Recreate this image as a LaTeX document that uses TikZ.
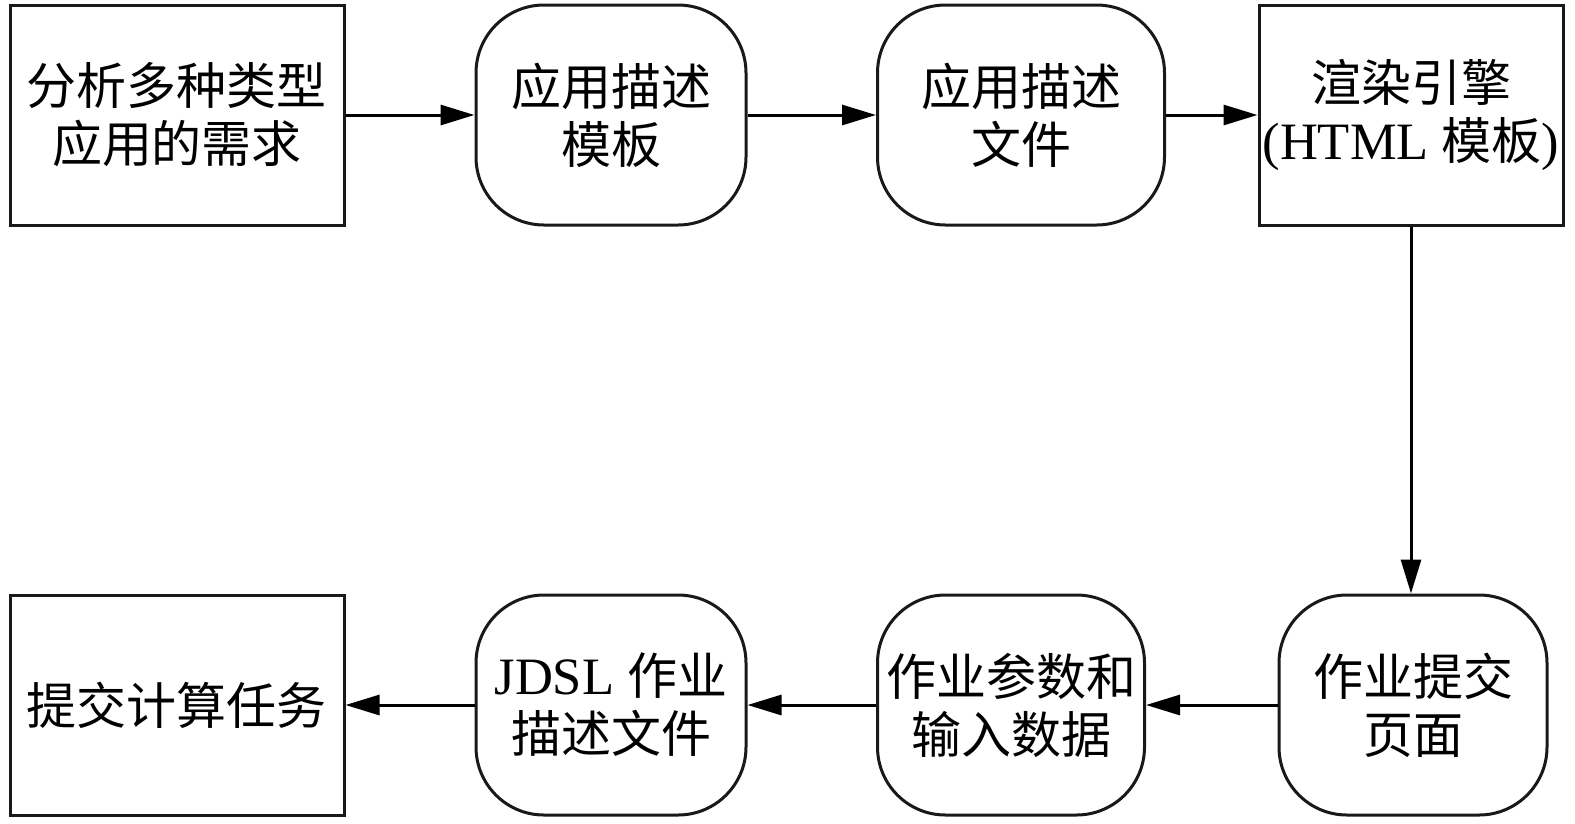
\documentclass[tikz,border=0pt]{standalone}
\usepackage{fontspec}
\setmainfont{Liberation Serif}[Scale=1.05]
\newfontfamily\cjk{Noto Sans CJK SC}
\usetikzlibrary{arrows.meta}
\begin{document}
\begin{tikzpicture}[x=1pt,y=-1pt,
  box/.style={draw=black!90, line width=3pt, minimum height=220pt, align=center, inner sep=0pt,
    font=\cjk\fontsize{50}{58}\selectfont},
  rbox/.style={box, rounded corners=68pt},
  arr/.style={line width=3pt, -{Triangle[length=34pt,width=20pt]}}]
\useasboundingbox (0,0) rectangle (1575,823);
\node[box, minimum width=334pt] (b1) at (177,115) {分析多种类型\\应用的需求};
\node[rbox, minimum width=270pt] (b2) at (611,115) {应用描述\\模板};
\node[rbox, minimum width=287pt] (b3) at (1021,115) {应用描述\\文件};
\node[box, minimum width=304pt] (b4) at (1411,115) {渲染引擎\\{\rmfamily (HTML }模板{\rmfamily )}};
\node[rbox, minimum width=268pt] (b8) at (1413,705) {作业提交\\页面};
\node[rbox, minimum width=267pt] (b7) at (1011,705) {作业参数和\\输入数据};
\node[rbox, minimum width=270pt] (b6) at (611,705) {{\rmfamily JDSL }作业\\描述文件};
\node[box, minimum width=334pt] (b5) at (177,705) {提交计算任务};
\draw[arr] (b1) -- (b2);
\draw[arr] (b2) -- (b3);
\draw[arr] (b3) -- (b4);
\draw[arr] (b4.south) -- (b4.south |- b8.north);
\draw[arr] (b8) -- (b7);
\draw[arr] (b7) -- (b6);
\draw[arr] (b6) -- (b5);
\end{tikzpicture}
\end{document}
